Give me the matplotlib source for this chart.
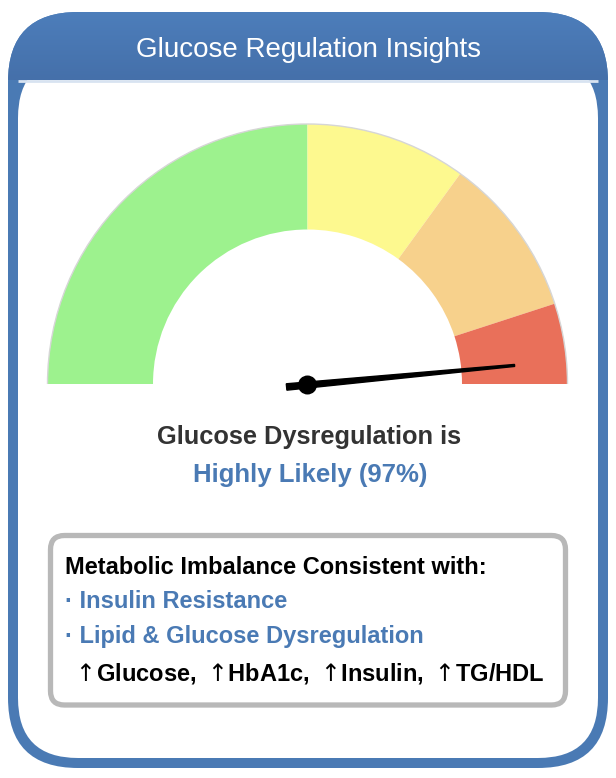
import numpy as np
import matplotlib.pyplot as plt
from matplotlib.colors import LinearSegmentedColormap
from matplotlib.patches import FancyBboxPatch, Wedge, Arc, Circle

plt.rcParams['font.family'] = ['Liberation Sans', 'DejaVu Sans']

# gauge data (percent of the dial)
seg_names = ['Unlikely', 'Possible', 'Likely', 'Highly Likely']
seg_values = [50, 20, 20, 10]
seg_colors = ['#9df28e', '#fdf98f', '#f7d18c', '#e9705a']
score = 97

title = 'Glucose Regulation Insights'
verdict_1 = 'Glucose Dysregulation is'
verdict_2 = f'Highly Likely ({score}%)'
box_head = 'Metabolic Imbalance Consistent with:'
box_items = ['Insulin Resistance', 'Lipid & Glucose Dysregulation']
markers = ['Glucose', 'HbA1c', 'Insulin', 'TG/HDL']

BLUE = '#4a7ab4'
W, H = 616, 778


def Y(y):
    # pixel rows (top-down) -> axis coords
    return H - y


fig = plt.figure(figsize=(W / 100, H / 100), dpi=100)
ax = fig.add_axes([0, 0, 1, 1])
ax.set_xlim(0, W)
ax.set_ylim(0, H)
ax.axis('off')

# card frame
outer = FancyBboxPatch((8, Y(768)), 600, 756, boxstyle='round,pad=0,rounding_size=70',
                       fc=BLUE, ec='none', zorder=1)
ax.add_patch(outer)
ax.add_patch(FancyBboxPatch((18, Y(758)), 580, 700, boxstyle='round,pad=0,rounding_size=60',
                            fc='white', ec='none', zorder=2))
grad = LinearSegmentedColormap.from_list('hdr', ['#4d7ebb', '#4570aa'])
im = ax.imshow(np.linspace(0, 1, 64)[:, None], cmap=grad, aspect='auto',
               extent=[0, W, Y(80), Y(10)], zorder=3)
im.set_clip_path(outer)
ax.set_xlim(0, W)
ax.set_ylim(0, H)
ax.plot([18, 598], [Y(81), Y(81)], color='#d8e3f1', lw=2, zorder=4, solid_capstyle='butt')
ax.text(308, Y(50), title, color='white', fontsize=20, ha='center', va='center', zorder=5)

# gauge
cx, cy = 307.5, Y(384)
r_out, r_in = 260, 154.5
start = 0
for v, c in zip(seg_values, seg_colors):
    t2 = 180 - start / 100 * 180
    t1 = 180 - (start + v) / 100 * 180
    ax.add_patch(Wedge((cx, cy), r_out, t1, t2, width=r_out - r_in, fc=c, ec='none', zorder=3))
    start += v
ax.add_patch(Arc((cx, cy), 2 * r_out, 2 * r_out, theta1=0, theta2=180, color='#d6d6d6', lw=1, zorder=4))

# needle
ang = np.radians(180 - score / 100 * 180)
d = np.array([np.cos(ang), np.sin(ang)])
n = np.array([-d[1], d[0]])
p0 = np.array([cx, cy - 1])
tip = p0 + d * 208
tail = p0 - d * 21
pts = np.array([tail + n * 3.2, tip + n * 1.0, tip - n * 1.0, tail - n * 3.2])
ax.fill(pts[:, 0], pts[:, 1], color='black', zorder=6)
ax.add_patch(Circle(p0, 9.5, fc='black', zorder=7))

ax.text(309, Y(437), verdict_1, fontsize=18.3, fontweight='bold', color='#333333',
        ha='center', va='center', zorder=5)
ax.text(310, Y(475), verdict_2, fontsize=18.5, fontweight='bold', color=BLUE,
        ha='center', va='center', zorder=5)

# findings box
ax.add_patch(FancyBboxPatch((50.5, Y(705)), 515, 169.5, boxstyle='round,pad=0,rounding_size=14',
                            fc='white', ec='#b8b8b8', lw=3.8, zorder=3))
ax.text(65, Y(567), box_head, fontsize=17, fontweight='bold', color='black',
        ha='left', va='center', zorder=5)
for i, item in enumerate(box_items):
    ax.text(65, Y(602 + 35 * i), '\u00b7 ' + item, fontsize=17, fontweight='bold', color=BLUE,
            ha='left', va='center', zorder=5)
ax.text(71, Y(673), ', '.join(r'$\uparrow\!$' + m for m in markers), fontsize=17, fontweight='bold',
        color='black', ha='left', va='center', zorder=5)

fig.savefig('out.png', dpi=100)
